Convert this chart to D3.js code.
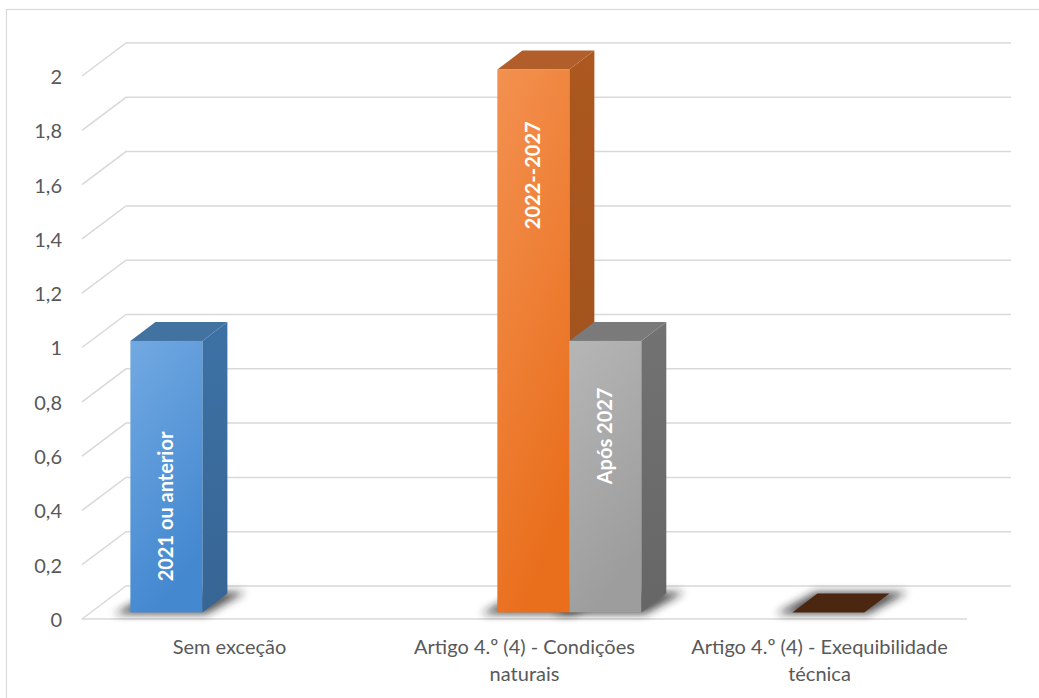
<!DOCTYPE html>
<html>
<head>
<meta charset="utf-8">
<script src="https://cdn.jsdelivr.net/npm/d3@7"></script>
<style>
  body { margin: 0; background: #fff; }
  svg { display: block; }
  text { font-family: Lato, "Open Sans", sans-serif; }
</style>
</head>
<body>
<div id="chart"></div>
<script>
// data
const categories = ["Sem exceção", "Artigo 4.º (4) - Condições naturais", "Artigo 4.º (4) - Exequibilidade técnica"];
const categoryLines = [["Sem exceção"], ["Artigo 4.º (4) - Condições", "naturais"], ["Artigo 4.º (4) - Exequibilidade", "técnica"]];
const seriesNames = ["2021 ou anterior", "2022--2027", "Após 2027"];
const seriesValues = [
    [1, null, null],
    [null, 2, 0],
    [null, 1, null]
];
const yTicks = [0, 0.2, 0.4, 0.6, 0.8, 1, 1.2, 1.4, 1.6, 1.8, 2];

// colours per series: [front top, front bottom, side, top]
const palette = [
    ["#72a9e2", "#4488d0", "#3a6b9c", "#42729f"],
    ["#f39150", "#e96f1d", "#a3531d", "#b25e2a"],
    ["#b6b6b6", "#9d9d9d", "#6c6c6c", "#7a7a7a"]
];
const brownTop = "#4b2611";

const width = 1039, height = 698;
const depthX = 44, depthY = -33;   // floor depth offset
const d0 = 0.2, d1 = 0.77;         // bar depth within floor

const svg = d3.select("#chart").append("svg")
    .attr("width", width)
    .attr("height", height);

const defs = svg.append("defs");
defs.append("filter").attr("id", "shadow")
    .attr("x", "-50%").attr("y", "-100%").attr("width", "200%").attr("height", "300%")
    .append("feGaussianBlur").attr("stdDeviation", 4);

palette.forEach((p, i) => {
    const g = defs.append("linearGradient").attr("id", "front" + i)
        .attr("x1", 0).attr("y1", 0).attr("x2", 0.35).attr("y2", 1);
    g.append("stop").attr("offset", "0%").attr("stop-color", p[0]);
    g.append("stop").attr("offset", "100%").attr("stop-color", p[1]);
    const s = defs.append("linearGradient").attr("id", "side" + i)
        .attr("x1", 0).attr("y1", 0).attr("x2", 0).attr("y2", 1);
    s.append("stop").attr("offset", "0%").attr("stop-color", d3.color(p[2]).brighter(0.15));
    s.append("stop").attr("offset", "100%").attr("stop-color", d3.color(p[2]).darker(0.15));
});

// chart border
svg.append("rect")
    .attr("x", 6.5).attr("y", 9.5)
    .attr("width", 1060).attr("height", 720)
    .attr("fill", "none")
    .attr("stroke", "#d9d9d9")
    .attr("stroke-width", 1.2);

const y = d3.scaleLinear().domain([0, 2]).range([619, 76]);
const x = d3.scaleBand().domain(categories).range([82, 967]);
const xs = d3.scaleBand().domain(d3.range(seriesNames.length))
    .range([0, x.bandwidth()]).paddingOuter(0.55).paddingInner(0);

const proj = (px, v, d) => [px + depthX * d, y(v) + depthY * d];
const pts = arr => arr.map(p => p.join(",")).join(" ");

// back wall gridlines + left wall diagonals
const grid = svg.append("g");
yTicks.forEach(t => {
    const front = proj(x.range()[0], t, 0);
    const back = proj(x.range()[0], t, 1);
    const backR = proj(x.range()[1], t, 1);
    grid.append("polyline")
        .attr("points", pts([front, back, backR]))
        .attr("fill", "none")
        .attr("stroke", "#d9d9d9")
        .attr("stroke-width", 1.5);
});
// floor front edge
grid.append("line")
    .attr("x1", x.range()[0]).attr("x2", x.range()[1])
    .attr("y1", y(0)).attr("y2", y(0))
    .attr("stroke", "#d9d9d9").attr("stroke-width", 1.5);

// y axis labels
const fmt = d3.formatLocale({decimal: ",", thousands: ".", grouping: [3], currency: ["", ""]}).format(".1~f");
const yAxis = svg.append("g")
    .attr("transform", "translate(62,1)")
    .call(d3.axisLeft(y).tickValues(yTicks).tickFormat(fmt).tickSize(0).tickPadding(0));
yAxis.select(".domain").remove();
yAxis.selectAll("text")
    .style("font-family", "Lato, 'Open Sans', sans-serif")
    .style("font-size", "20px")
    .attr("fill", "#595959");

// bars
const bars = [];
seriesValues.forEach((vals, si) => {
    vals.forEach((v, ci) => {
        if (v === null) return;
        bars.push({si, ci, v});
    });
});

const barG = svg.append("g");
// shadows first
bars.forEach(b => {
    const x0 = x(categories[b.ci]) + xs(b.si);
    const x1 = x0 + xs.bandwidth();
    barG.append("polygon")
        .attr("points", pts([
            proj(x0 - 14, 0, d0 - 0.05), proj(x1 + 6, 0, d0 - 0.05),
            proj(x1 + 16, 0, d1 + 0.05), proj(x0 - 4, 0, d1 + 0.05)
        ]))
        .attr("fill", "#1a1a1a")
        .attr("opacity", 0.75)
        .attr("filter", "url(#shadow)");
});

bars.forEach(b => {
    const x0 = x(categories[b.ci]) + xs(b.si);
    const x1 = x0 + xs.bandwidth();
    const g = barG.append("g");
    if (b.v === 0) {
        g.append("polygon")
            .attr("points", pts([proj(x0, 0, d0), proj(x1, 0, d0), proj(x1, 0, d1), proj(x0, 0, d1)]))
            .attr("fill", brownTop);
        return;
    }
    const p = palette[b.si];
    // side
    g.append("polygon")
        .attr("points", pts([proj(x1, 0, d0), proj(x1, b.v, d0), proj(x1, b.v, d1), proj(x1, 0, d1)]))
        .attr("fill", `url(#side${b.si})`);
    // top
    g.append("polygon")
        .attr("points", pts([proj(x0, b.v, d0), proj(x1, b.v, d0), proj(x1, b.v, d1), proj(x0, b.v, d1)]))
        .attr("fill", p[3]);
    // front
    const f0 = proj(x0, b.v, d0), f1 = proj(x1, 0, d0);
    g.append("rect")
        .attr("x", f0[0]).attr("y", f0[1])
        .attr("width", f1[0] - f0[0]).attr("height", f1[1] - f0[1])
        .attr("fill", `url(#front${b.si})`);
});

// bar labels (rotated, white, bold)
const labelAt = {"0-0": 0.39, "1-1": 1.61, "2-1": 0.65};
bars.forEach(b => {
    const key = b.si + "-" + b.ci;
    if (!(key in labelAt)) return;
    const x0 = x(categories[b.ci]) + xs(b.si);
    const c = proj(x0 + xs.bandwidth() / 2, labelAt[key], d0);
    svg.append("text")
        .attr("transform", `translate(${c[0]},${c[1]}) rotate(-90)`)
        .attr("text-anchor", "middle")
        .attr("dy", "0.35em")
        .attr("fill", "#fff")
        .style("font-size", "20px")
        .style("font-weight", "bold")
        .text(seriesNames[b.si]);
});

// category labels
const catG = svg.append("g");
categories.forEach((c, i) => {
    const t = catG.append("text")
        .attr("x", x(c) + x.bandwidth() / 2)
        .attr("y", 654)
        .attr("text-anchor", "middle")
        .attr("fill", "#595959")
        .style("font-size", "20px");
    categoryLines[i].forEach((line, li) => {
        t.append("tspan")
            .attr("x", x(c) + x.bandwidth() / 2)
            .attr("dy", li === 0 ? 0 : 27)
            .text(line);
    });
});
</script>
</body>
</html>
